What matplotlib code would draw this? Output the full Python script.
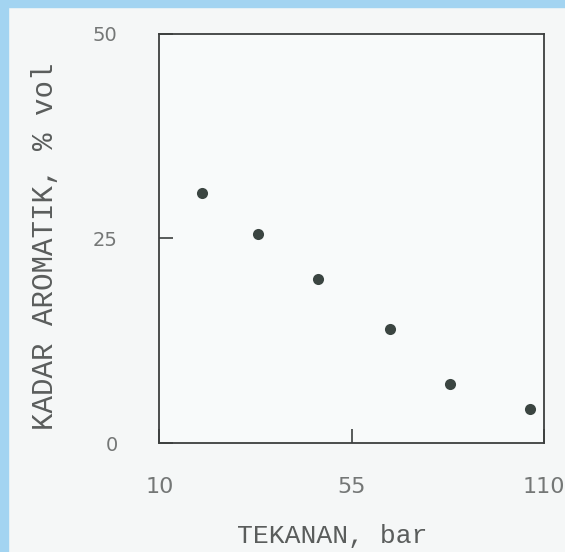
import numpy as np
import matplotlib
matplotlib.use('Agg')
import matplotlib.pyplot as plt
from matplotlib.patches import Rectangle

# data
tekanan = [20, 33, 47, 66, 83, 106]          # bar
aromatik = [30.6, 25.5, 20.1, 13.9, 7.2, 4.2]  # % vol
x_ticks = [10, 55, 110]
y_ticks = [0, 25, 50]

# the original axis puts 10, 55 and 110 at equal spacing
knots = [10, 55, 110]
pos = [0, 1, 2]


def fwd(x):
    return np.interp(x, knots, pos)


def inv(p):
    return np.interp(p, pos, knots)


bg = '#f5f7f7'
ink = '#3c3f3e'

fig = plt.figure(figsize=(5.65, 5.52), dpi=100, facecolor=bg)
ax = fig.add_axes([0.282, 0.197, 0.681, 0.742])
ax.set_facecolor('#f8fafa')

ax.set_xscale('function', functions=(fwd, inv))
ax.plot(tekanan, aromatik, 'o', color='#3b4541', markersize=8, markeredgewidth=0)

ax.set_xlim(10, 110)
ax.set_ylim(0, 50)
ax.set_xticks(x_ticks)
ax.set_yticks(y_ticks)
ax.set_xticklabels([str(t) for t in x_ticks])
ax.set_yticklabels([str(t) for t in y_ticks])
ax.minorticks_off()

ax.tick_params(axis='x', direction='in', length=10, width=1.2, color=ink,
               pad=24, labelsize=16, labelcolor='#747776')
ax.tick_params(axis='y', direction='in', length=10, width=1.2, color=ink,
               pad=30, labelsize=14, labelcolor='#747776')
for s in ax.spines.values():
    s.set_color(ink)
    s.set_linewidth(1.3)

mono = 'Liberation Mono'
ax.set_xlabel('TEKANAN, bar', family=mono, fontsize=19, color='#5a5d5c')
ax.set_ylabel('KADAR AROMATIK, % vol', family=mono, fontsize=21, color='#5a5d5c')
ax.xaxis.set_label_coords(0.45, -0.197)
ax.yaxis.set_label_coords(-0.262, 0.48)

# light blue scan border on left and top
fig.patches.append(Rectangle((0, 0), 8 / 565, 1, transform=fig.transFigure,
                             color='#a3d4f1', zorder=-1))
fig.patches.append(Rectangle((0, 1 - 7 / 552), 1, 7 / 552, transform=fig.transFigure,
                             color='#a3d4f1', zorder=-1))

fig.savefig('out.png', dpi=100, facecolor=bg)
